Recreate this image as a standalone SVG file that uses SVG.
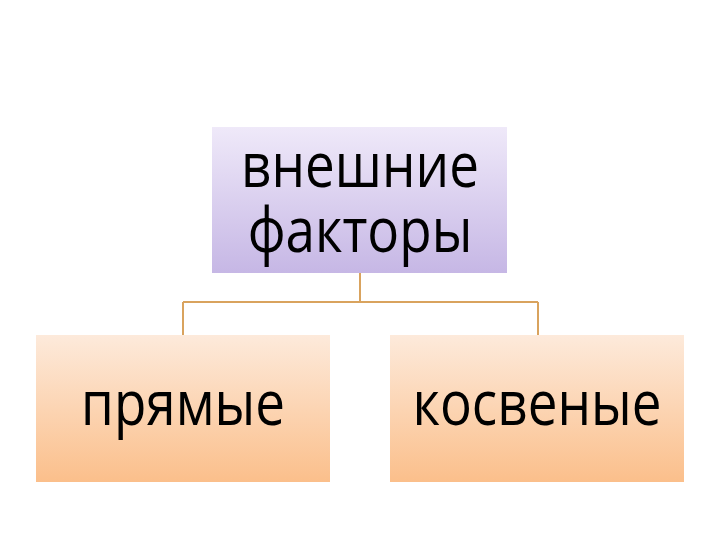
<svg xmlns="http://www.w3.org/2000/svg" width="720" height="540" viewBox="0 0 720 540">
<defs>
<linearGradient id="gp" x1="0" y1="0" x2="0" y2="1">
<stop offset="0" stop-color="#efe9f9"/>
<stop offset="1" stop-color="#c6b7e5"/>
</linearGradient>
<linearGradient id="go" x1="0" y1="0" x2="0" y2="1">
<stop offset="0" stop-color="#fdeadb"/>
<stop offset="1" stop-color="#fbbf8b"/>
</linearGradient>
<style>
.t{font-family:"Open Sans","Noto Sans","Liberation Sans",sans-serif;font-size:53px;fill:#000;text-anchor:middle}
.c{fill:none;stroke:#d9a35e;stroke-width:2}
</style>
</defs>
<rect width="720" height="540" fill="#fff"/>
<g id="connectors">
<path class="c" d="M360 273V302M183 302H538M183 302V335M538 302V335"/>
</g>
<g id="top">
<rect x="212" y="127" width="295" height="146" fill="url(#gp)"/>
<text class="t" transform="scale(1 1.17)"><tspan x="360" y="159.8">внешние</tspan><tspan x="360" y="215.4">факторы</tspan></text>
</g>
<g id="left">
<rect x="36" y="335" width="294" height="147" fill="url(#go)"/>
<text class="t" transform="translate(183 425) scale(1 1.17)">прямые</text>
</g>
<g id="right">
<rect x="390" y="335" width="294" height="147" fill="url(#go)"/>
<text class="t" transform="translate(537 425) scale(1 1.17)">косвеные</text>
</g>
</svg>
